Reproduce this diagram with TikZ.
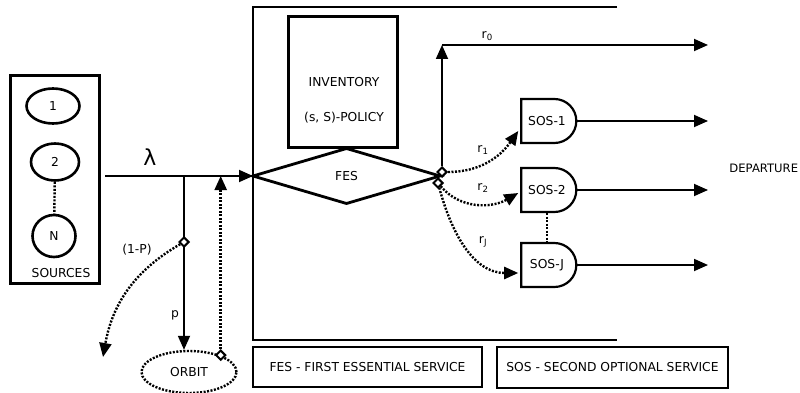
\documentclass[tikz,border=0pt]{standalone}
\usepackage{fontspec}
\setmainfont{DejaVu Sans}
\usepackage{tikz}
\usetikzlibrary{arrows.meta, shapes.geometric, shapes.gates.logic.US}
\tikzset{
    %Define style for boxes
    srcbox/.style={
           rectangle,
           draw=black, line width=3pt,
           minimum width=89pt,
           minimum height=207pt},
 %
    srcell/.style={
           ellipse,
           draw=black, line width=2.6pt,
           inner sep=0pt},
 %
    invbox/.style={
           rectangle,
           draw=black, line width=3pt,
           minimum width=109pt,
           minimum height=130pt},
 %
    fesdiamond/.style={
           diamond,
           draw=black, line width=2.8pt,
           aspect=3.4,
           inner sep=0pt, outer sep=0pt,
           minimum width=187pt,
           minimum height=55pt},
 %
    gate/.style={
           and gate US,
           draw=black, line width=2.2pt,
           logic gate inputs=nn,
           inner sep=0pt,
           minimum width=55pt,
           minimum height=44pt},
 %
    orbitell/.style={
           ellipse,
           draw=black, line width=2.4pt,
           dash pattern=on 2pt off 1.5pt,
           minimum width=95pt,
           minimum height=42pt},
 %
    legendbox/.style={
           rectangle,
           draw=black, line width=2.2pt},
 %
    marker/.style={
           diamond,
           draw=black, line width=2pt,
           fill=white,
           inner sep=0pt,
           minimum size=10pt},
%
    % Define line styles
    dotline/.style={
           line width=2.4pt,
           dash pattern=on 2pt off 1.5pt}
}
\begin{document}
\begin{tikzpicture}[x=1pt, y=-1pt, line width=1.8pt,
  >={Triangle[length=14pt,width=12pt]},
  every node/.style={font=\fontsize{12.3}{14}\selectfont}]

  \useasboundingbox (0,0) rectangle (800,393);

  % sources
  \node[srcbox] (sources) at (54.5,179.5) {};
  \node[srcell, minimum width=53pt, minimum height=35pt] (src1) at (53,106) {1};
  \node[srcell, minimum width=48pt, minimum height=37pt] (src2) at (55,162) {2};
  \node[srcell, minimum width=43pt, minimum height=42pt] (srcN) at (54,236) {N};
  \node (srctext) at (61,273) {SOURCES};
  \draw[dotline] (src2) -- (srcN);

  % service area
  \coordinate (frametop) at (617,7);
  \coordinate (framebot) at (617,340);
  \node[fesdiamond] (fes) at (346.5,176) {FES};
  \draw (frametop) -| (fes.west |- framebot) -- (framebot);
  \node[invbox] (inv) at (342.5,82) {};
  \node[align=center] (invtext) at (344,100.5) {INVENTORY\\[21pt](s, S)-POLICY};

  % arrivals and orbit
  \coordinate (arrive) at (105,176);
  \coordinate (split) at (184,176);
  \coordinate (lost) at (103,357);
  \node[font=\fontsize{22}{24}\selectfont] (lam) at (150,157) {λ};
  \draw[->] (arrive) -- (fes.west);
  \node[orbitell] (orbit) at (189,372) {ORBIT};
  \draw[->] (split) -- (split |- orbit.north);
  \node[marker] (leave) at (184,242) {};
  \node (plabel) at (175,315) {p};
  \node (qlabel) at (137,250) {(1-P)};
  \draw[dotline,->] (leave) to[out=210,in=80] (lost);
  \node[marker] (retry) at (orbit.28) {};
  \draw[dotline,->] (retry) -- (retry |- fes.west);

  % departures
  \node[marker] (out0) at (442,172) {};
  \node[marker] (outJ) at (438,183) {};
  \coordinate (corner) at (442,45);
  \coordinate (dep0) at (708,45);
  \draw[->] (out0) -- (corner);
  \draw[->] (corner) -- node[pos=0.17, above] (r0) {r\textsubscript{0}} (dep0);

  \node[gate] (sos1) at (547,121) {SOS-1};
  \node[gate] (sos2) at (547,190) {SOS-2};
  \node[gate] (sosJ) at (547,265) {SOS-J};
  \draw[->] (sos1.east) -- (sos1.east -| dep0);
  \draw[->] (sos2.east) -- (sos2.east -| dep0);
  \draw[->] (sosJ.east) -- (sosJ.east -| dep0);
  \draw[dotline, line width=1.6pt] (sos2.south) -- (sosJ.north);

  \draw[dotline,->] (out0) to[out=0,in=235] ([xshift=-2pt,yshift=-10pt]sos1.west);
  \draw[dotline,->] (outJ) to[out=-50,in=210] ([xshift=-2pt,yshift=-3pt]sos2.west);
  \draw[dotline,->] (outJ) to[out=-75,in=180] ([xshift=-2pt,yshift=-8pt]sosJ.west);
  \node (r1) at (483,150) {r\textsubscript{1}};
  \node (r2) at (483,188) {r\textsubscript{2}};
  \node (rJ) at (483,242) {r\textsubscript{J}};
  \node[anchor=east, inner xsep=1pt, font=\fontsize{11.6}{14}\selectfont] (depart) at (800,168) {DEPARTURE};

  % legend
  \node[legendbox, minimum width=229pt, minimum height=40pt] (legfes) at (367.5,367) {FES - FIRST ESSENTIAL SERVICE};
  \node[legendbox, minimum width=231pt, minimum height=41pt] (legsos) at (612.5,367.5) {SOS - SECOND OPTIONAL SERVICE};
\end{tikzpicture}
\end{document}
